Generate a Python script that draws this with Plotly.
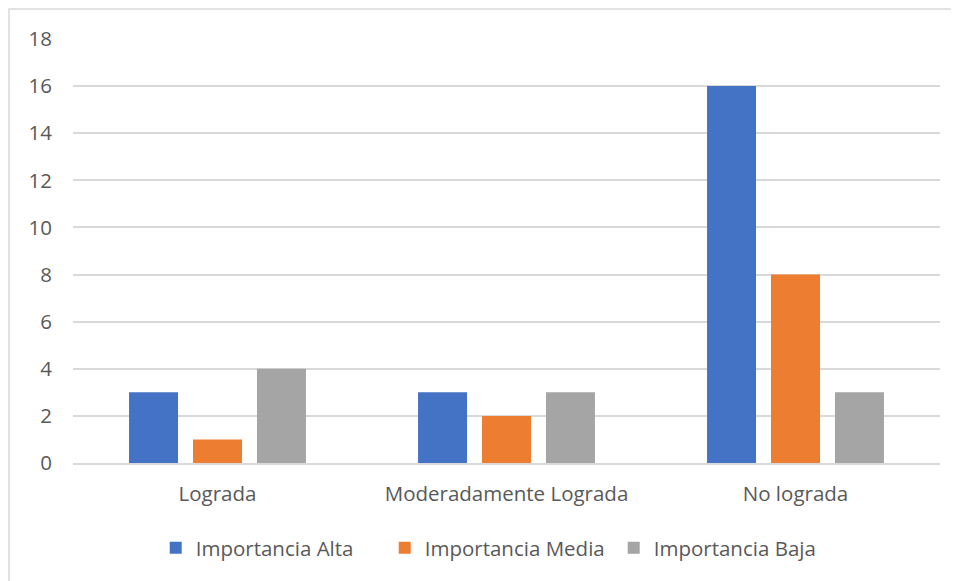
import plotly.graph_objects as go

categories = ["Lograda", "Moderadamente Lograda", "No lograda"]
series_names = ["Importancia Alta", "Importancia Media", "Importancia Baja"]
alta = [3, 3, 16]
media = [1, 2, 8]
baja = [4, 3, 3]
colors = ["#4472C4", "#ED7D31", "#A5A5A5"]
y_ticks = [0, 2, 4, 6, 8, 10, 12, 14, 16, 18]

# page has an 8px body margin, so the figure is slightly smaller than the window
W, H = 951, 573
ml, mr, mt, mb = 65, 19, 31, 118
font_family = "'Open Sans', sans-serif"
text_color = "#595959"
fs = 20.5

fig = go.Figure()
for name, vals, col in zip(series_names, [alta, media, baja], colors):
    fig.add_trace(go.Bar(x=categories, y=vals, name=name, marker=dict(color=col, line=dict(width=0))))

pw = W - ml - mr
ph = H - mt - mb
x0 = (1 - ml) / pw
y1 = 1 + (mt - 1) / ph

fig.update_layout(
    width=W, height=H,
    margin=dict(l=ml, r=mr, t=mt, b=mb, autoexpand=False),
    paper_bgcolor="white", plot_bgcolor="white",
    barmode="group", bargap=0.336, bargroupgap=0.234,
    font=dict(family=font_family, size=fs, color=text_color),
    xaxis=dict(showgrid=False, showline=True, linecolor="#D9D9D9", linewidth=1.5,
               ticks="", ticklabelstandoff=12, tickfont=dict(size=fs, color=text_color)),
    yaxis=dict(range=[0, 18], tickvals=y_ticks, showgrid=True, gridcolor="#D9D9D9", gridwidth=1.5,
               zeroline=False, showline=False, ticks="", ticklabelstandoff=20,
               tickfont=dict(size=fs, color=text_color)),
    legend=dict(orientation="h", x=0.4916, xanchor="center", y=-0.2, yanchor="middle",
                font=dict(size=fs, color=text_color), itemwidth=30, tracegroupgap=0,
                entrywidth=184, entrywidthmode="pixels",
                traceorder="normal"),
    showlegend=True,
    shapes=[dict(type="rect", xref="paper", yref="paper", x0=x0, x1=1.2, y0=-0.5, y1=y1,
                 line=dict(color="#D9D9D9", width=1.5), fillcolor="rgba(0,0,0,0)", layer="below")],
)

fig.write_html("out.html")
